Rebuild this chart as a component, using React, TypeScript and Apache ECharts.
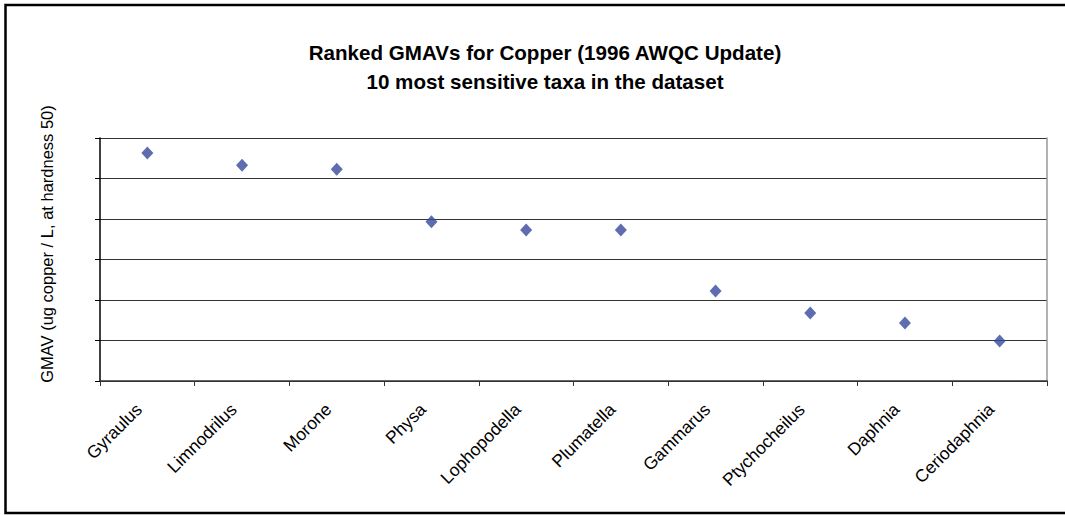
import React, { useEffect, useRef } from "react";
import * as echarts from "echarts";

const categories = [
  "Gyraulus",
  "Limnodrilus",
  "Morone",
  "Physa",
  "Lophopodella",
  "Plumatella",
  "Gammarus",
  "Ptychocheilus",
  "Daphnia",
  "Ceriodaphnia",
];
const gmavValues = [5.63, 5.33, 5.23, 3.93, 3.73, 3.73, 2.22, 1.68, 1.43, 0.99];
const yMin = 0;
const yMax = 6;
const yInterval = 1;

export default function App() {
  const ref = useRef<HTMLDivElement>(null);
  useEffect(() => {
    if (!ref.current) return;
    const chart = echarts.init(ref.current, null, { renderer: "svg" });
    const font = "Liberation Sans, Arial, sans-serif";
    chart.setOption({
      animation: false,
      backgroundColor: "#ffffff",
      title: {
        text: "Ranked GMAVs for Copper (1996 AWQC Update)\n10 most sensitive taxa in the dataset",
        left: 540,
        top: 33,
        textAlign: "center",
        textStyle: {
          fontFamily: font,
          fontSize: 20.6,
          fontWeight: "bold",
          color: "#000",
          lineHeight: 29,
        },
      },
      graphic: [
        {
          type: "rect",
          shape: { x: 5.5, y: 5, width: 1100, height: 508 },
          style: { fill: "none", stroke: "#000", lineWidth: 2.5 },
          silent: true,
        },
        {
          type: "text",
          x: 47,
          y: 244,
          rotation: Math.PI / 2,
          style: {
            text: "GMAV (ug copper / L, at hardness 50)",
            fontFamily: font,
            fontSize: 16.5,
            fill: "#000",
            align: "center",
            verticalAlign: "middle",
          },
          silent: true,
        },
      ],
      grid: { left: 100, top: 138, right: 18, bottom: 134 },
      xAxis: {
        type: "category",
        data: categories,
        boundaryGap: true,
        axisLine: { lineStyle: { color: "#333", width: 1.5 } },
        axisTick: { show: true, length: 5, alignWithLabel: false, lineStyle: { color: "#333" } },
        axisLabel: {
          rotate: 45,
          interval: 0,
          margin: 17,
          padding: [0, 12, 0, 0],
          fontFamily: font,
          fontSize: 17.5,
          color: "#000",
        },
        splitLine: { show: false },
      },
      yAxis: [
        {
          type: "value",
          min: yMin,
          max: yMax,
          interval: yInterval,
          axisLine: { show: true, lineStyle: { color: "#000", width: 1.5 } },
          axisTick: { show: true, length: 5, lineStyle: { color: "#000" } },
          axisLabel: { show: false },
          splitLine: { show: true, lineStyle: { color: "#333", width: 1 } },
        },
        {
          type: "value",
          position: "right",
          min: yMin,
          max: yMax,
          interval: yInterval,
          axisLine: { show: true, lineStyle: { color: "#999", width: 1.5 } },
          axisTick: { show: false },
          axisLabel: { show: false },
          splitLine: { show: false },
        },
      ],
      series: [
        {
          type: "scatter",
          data: gmavValues,
          symbol: "diamond",
          symbolSize: [12, 13],
          itemStyle: { color: "#34499c" },
          yAxisIndex: 0,
        },
      ],
    });
    return () => chart.dispose();
  }, []);
  return <div ref={ref} style={{ width: 1065, height: 515, position: "absolute", left: 0, top: 0 }} />;
}
